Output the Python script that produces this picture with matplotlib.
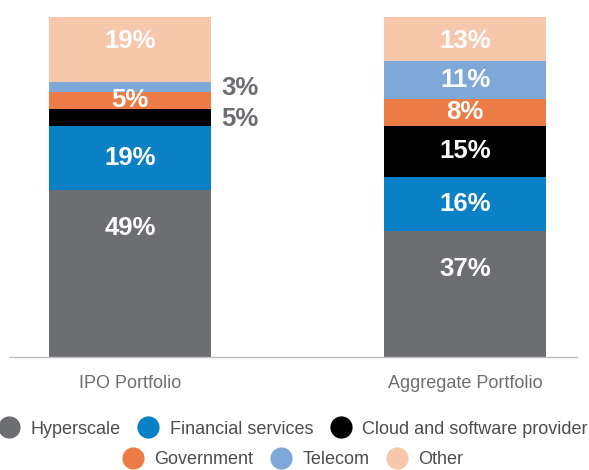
import matplotlib.pyplot as plt
from matplotlib.lines import Line2D

# Data: share of each customer type, in percent
PORTFOLIOS = ['IPO Portfolio', 'Aggregate Portfolio']
SEGMENTS = ['Hyperscale', 'Financial services', 'Cloud and software provider',
            'Government', 'Telecom', 'Other']
IPO_SHARE = [49, 19, 5, 5, 3, 19]
AGGREGATE_SHARE = [37, 16, 15, 8, 11, 13]

# Small IPO segments get their label beside the bar instead of inside
IPO_OUTSIDE = ['Cloud and software provider', 'Telecom']

# Labels pinned at a set distance (in percentage points) below the segment top
LABEL_FROM_TOP = {'Hyperscale': 11, 'Other': 7}

COLORS = ['#6d6e71', '#0a80c6', '#000000', '#ec7b46', '#7ea8d8', '#f6c7ab']
GRAY = '#6d6e71'
FONT = 'Liberation Sans'

plt.rcParams['font.family'] = [FONT, 'DejaVu Sans']

fig = plt.figure(figsize=(5.89, 4.70), dpi=100)
ax = fig.add_axes([10 / 589, 113 / 470, 567 / 589, 340 / 470])

bar_width = 0.4836
shares = [IPO_SHARE, AGGREGATE_SHARE]
x_pos = range(len(PORTFOLIOS))

for i, values in enumerate(shares):
    bottom = 0
    for seg, val, color in zip(SEGMENTS, values, COLORS):
        ax.bar(i, val, bottom=bottom, width=bar_width, color=color, linewidth=0)
        top = bottom + val
        if seg in LABEL_FROM_TOP:
            label_y = top - LABEL_FROM_TOP[seg]
        else:
            label_y = bottom + val / 2
        if i == 0 and seg in IPO_OUTSIDE:
            ax.text(i + bar_width / 2 + 0.03, label_y - 0.4, f'{val}%', ha='left',
                    va='center', color=GRAY, fontsize=18.5, fontweight='bold')
        else:
            ax.text(i, label_y, f'{val}%', ha='center', va='center',
                    color='white', fontsize=18.5, fontweight='bold')
        bottom = top

ax.set_xlim(-0.358, 1.334)
ax.set_ylim(0, 100)
ax.set_xticks(list(x_pos))
ax.set_xticklabels(PORTFOLIOS, fontsize=13, color=GRAY)
ax.tick_params(axis='x', length=0, pad=13)
ax.set_yticks([])
for side in ['top', 'right', 'left']:
    ax.spines[side].set_visible(False)
ax.spines['bottom'].set_color('#bdbdbd')
ax.spines['bottom'].set_linewidth(1.0)

# Legend in two centred rows
handles = [Line2D([], [], marker='o', linestyle='none', markersize=16,
                  markerfacecolor=c, markeredgecolor='none') for c in COLORS]
rows = [(0, 3, 429), (3, 6, 460)]
for start, end, y in rows:
    fig.legend(handles[start:end], SEGMENTS[start:end], loc='center',
               bbox_to_anchor=(0.4975, 1 - y / 470), ncol=end - start,
               frameon=False, fontsize=13, labelcolor='#4d4d4f',
               handlelength=1.2, handletextpad=0.57, columnspacing=0.95,
               borderpad=0, borderaxespad=0)

fig.savefig('out.png', dpi=100)
